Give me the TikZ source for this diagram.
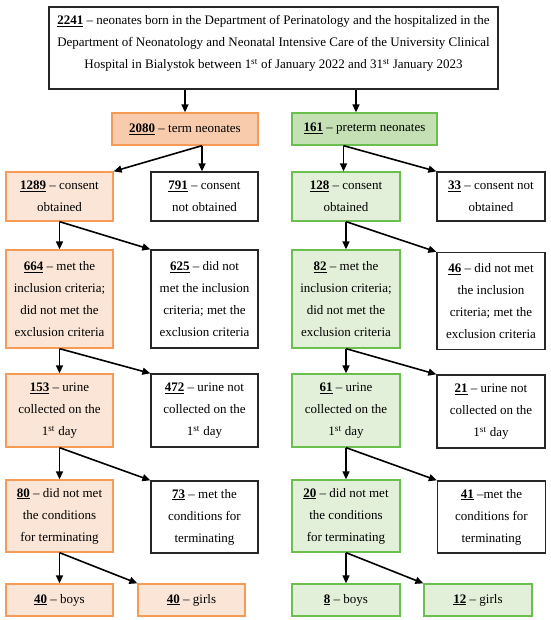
\documentclass[tikz,border=0pt]{standalone}
\usepackage{fontspec}
\setmainfont{Liberation Serif}
\usetikzlibrary{arrows.meta}
\newcommand\nb[1]{\underline{\textbf{#1}}}
\definecolor{orfill}{HTML}{FBE5D6}
\definecolor{orfillD}{HTML}{F8CBAD}
\definecolor{ordraw}{HTML}{F59B55}
\definecolor{grfill}{HTML}{E2F0D9}
\definecolor{grfillD}{HTML}{C5E0B4}
\definecolor{grdraw}{HTML}{6BBF4E}
\tikzset{
  box/.style={draw, line width=1.3pt, align=center, inner sep=0pt,
    font=\fontsize{13pt}{22pt}\selectfont},
  wbox/.style={box, draw=black!85, fill=white},
  obox/.style={box, draw=ordraw, fill=orfill},
  gbox/.style={box, draw=grdraw, fill=grfill},
  arr/.style={line width=1.6pt, -{Triangle[length=8pt,width=7pt]}},
}
\begin{document}
\begin{tikzpicture}[x=1pt,y=1pt]
\useasboundingbox (0,0) rectangle (550,-620);
% top
\node[wbox, minimum width=449pt, minimum height=82pt] (top) at (273.5,-48)
  {\nb{2241} -- neonates born in the Department of Perinatology and the hospitalized in the\\
   Department of Neonatology and Neonatal Intensive Care of the University Clinical\\
   Hospital in Bialystok between 1\textsuperscript{st} of January 2022 and 31\textsuperscript{st} January 2023\rule[-12pt]{0pt}{0pt}};
% level 1
\node[obox, fill=orfillD, minimum width=146pt, minimum height=32pt] (term) at (185,-129) {\nb{2080} -- term neonates};
\node[gbox, fill=grfillD, minimum width=145pt, minimum height=32pt] (pre) at (364.5,-129) {\nb{161} -- preterm neonates};
% row 2
\node[obox, minimum width=107pt, minimum height=49pt] (n1289) at (59.5,-196.5) {\nb{1289} -- consent\\obtained};
\node[wbox, minimum width=107pt, minimum height=49pt] (n791) at (204.5,-196.5) {\nb{791} -- consent\\not obtained};
\node[gbox, minimum width=108pt, minimum height=49pt] (n128) at (346,-196.5) {\nb{128} -- consent\\obtained};
\node[wbox, minimum width=108pt, minimum height=49pt] (n33) at (491,-196.5) {\nb{33} -- consent not\\obtained};
% row 3
\node[obox, minimum width=107pt, minimum height=98pt] (n664) at (59.5,-299) {\nb{664} -- met the\\inclusion criteria;\\did not met the\\exclusion criteria};
\node[wbox, minimum width=107pt, minimum height=98pt] (n625) at (204.5,-299) {\nb{625} -- did not\\met the inclusion\\criteria; met the\\exclusion criteria};
\node[gbox, minimum width=108pt, minimum height=98pt] (n82) at (346,-299) {\nb{82} -- met the\\inclusion criteria;\\did not met the\\exclusion criteria};
\node[wbox, minimum width=108pt, minimum height=97pt] (n46) at (491,-301) {\nb{46} -- did not met\\the inclusion\\criteria; met the\\exclusion criteria};
% row 4
\node[obox, minimum width=107pt, minimum height=73pt] (n153) at (59.5,-410.5) {\nb{153} -- urine\\collected on the\\1\textsuperscript{st} day};
\node[wbox, minimum width=107pt, minimum height=73pt] (n472) at (204.5,-410.5) {\nb{472} -- urine not\\collected on the\\1\textsuperscript{st} day};
\node[gbox, minimum width=108pt, minimum height=73pt] (n61) at (346,-410.5) {\nb{61} -- urine\\collected on the\\1\textsuperscript{st} day};
\node[wbox, minimum width=108pt, minimum height=73pt] (n21) at (491,-411.5) {\nb{21} -- urine not\\collected on the\\1\textsuperscript{st} day};
% row 5
\node[obox, minimum width=107pt, minimum height=72pt] (n80) at (59.5,-516) {\nb{80} -- did not met\\the conditions\\for terminating};
\node[wbox, minimum width=107pt, minimum height=72pt] (n73) at (204.5,-517) {\nb{73} -- met the\\conditions for\\terminating};
\node[gbox, minimum width=108pt, minimum height=72pt] (n20) at (346,-516) {\nb{20} -- did not met\\the conditions\\for terminating};
\node[wbox, minimum width=108pt, minimum height=72pt] (n41) at (491.5,-517) {\nb{41} --met the\\conditions for\\terminating};
% row 6
\node[obox, minimum width=107pt, minimum height=32pt] (n40b) at (59.5,-600) {\nb{40} -- boys};
\node[obox, minimum width=107pt, minimum height=32pt] (n40g) at (191.5,-600) {\nb{40} -- girls};
\node[gbox, minimum width=108pt, minimum height=32pt] (n8) at (346,-600) {\nb{8} -- boys};
\node[gbox, minimum width=108pt, minimum height=32pt] (n12) at (478,-600) {\nb{12} -- girls};
% connectors
\coordinate (p1) at ([xshift=-8.5pt]pre.north);
\draw[arr] (top.south -| term.north) -- (term.north);
\draw[arr] (top.south -| p1) -- (p1);
\coordinate (t0) at ([xshift=17pt]term.south);
\draw[arr] (t0) -- (t0 |- n791.north);
\draw[arr] (t0) -- (n1289.north east);
\coordinate (q0) at ([xshift=-21pt]pre.south);
\draw[arr] (q0) -- (q0 |- n128.north);
\draw[arr] (q0) -- (n33.north west);
\draw[arr] (n1289.south) -- (n664.north);
\draw[arr] (n1289.south) -- (n625.north west);
\draw[arr] (n128.south) -- (n82.north);
\draw[arr] (n128.south) -- (n46.north west);
\draw[arr] (n664.south) -- (n153.north);
\draw[arr] (n664.south) -- (n472.north west);
\draw[arr] (n82.south) -- (n61.north);
\draw[arr] (n82.south) -- (n21.north west);
\draw[arr] (n153.south) -- (n80.north);
\draw[arr] (n153.south) -- (n73.north west);
\draw[arr] (n61.south) -- (n20.north);
\draw[arr] (n61.south) -- (n41.north west);
\draw[arr] (n80.south) -- (n40b.north);
\draw[arr] (n80.south) -- (n40g.north west);
\draw[arr] (n20.south) -- (n8.north);
\draw[arr] (n20.south) -- (n12.north west);
\end{tikzpicture}
\end{document}
